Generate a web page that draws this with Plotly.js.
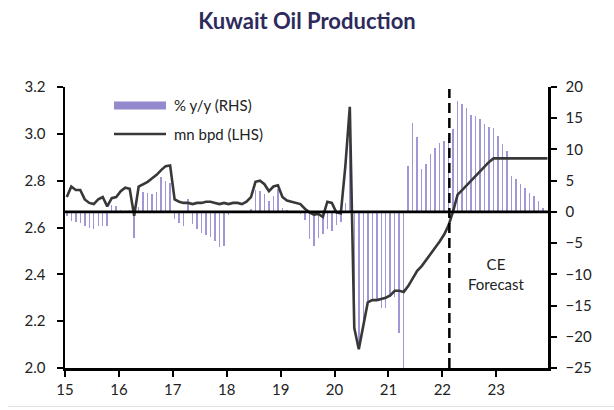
<!DOCTYPE html>
<html>
<head>
<meta charset="utf-8">
<script src="https://cdn.plot.ly/plotly-3.0.1.min.js"></script>
<style>
  html, body { margin: 0; padding: 0; background: #ffffff; }
  #chart { width: 614px; height: 410px; }
</style>
</head>
<body>
<div id="chart"></div>
<script>
// Kuwait crude output, monthly Jan 2015 - Dec 2023 (forecast from Mar 2022)
const startYear = 2015;
const yearTicks = [2015, 2016, 2017, 2018, 2019, 2020, 2021, 2022, 2023];
const yearLabels = ['15', '16', '17', '18', '19', '20', '21', '22', '23'];

// mn bpd (left axis)
const production = [
  2.73, 2.775, 2.76, 2.76, 2.72, 2.705, 2.70, 2.72, 2.73, 2.69, 2.725, 2.73,
  2.755, 2.77, 2.765, 2.65, 2.775, 2.785, 2.795, 2.81, 2.825, 2.845, 2.862, 2.865,
  2.72, 2.71, 2.705, 2.705, 2.70, 2.705, 2.705, 2.71, 2.71, 2.705, 2.70, 2.705,
  2.70, 2.705, 2.705, 2.70, 2.71, 2.73, 2.795, 2.80, 2.785, 2.755, 2.775, 2.78,
  2.73, 2.715, 2.71, 2.705, 2.70, 2.68, 2.665, 2.655, 2.658, 2.645, 2.71, 2.705,
  2.665, 2.66, 2.86, 3.115, 2.17, 2.08, 2.18, 2.28, 2.29, 2.29, 2.295, 2.30,
  2.31, 2.33, 2.33, 2.325, 2.35, 2.38, 2.415, 2.435, 2.46, 2.49, 2.515, 2.54,
  2.57, 2.61, 2.67, 2.74, 2.76, 2.78, 2.80, 2.82, 2.84, 2.86, 2.88, 2.895,
  2.895, 2.895, 2.895, 2.895, 2.895, 2.895, 2.895, 2.895, 2.895, 2.895, 2.895, 2.895
];

// % y/y (right axis)
const yoyChange = [
  -0.6, -1.4, -1.6, -1.7, -2.3, -2.5, -2.8, -2.3, -2.3, -2.3, 1.1, 0.9,
  0.3, 0.2, 0.3, -4.2, 0.8, 3.2, 3.1, 2.9, 3.2, 5.6, 4.9, 4.6,
  -1.2, -1.8, -2.3, 2.1, -2.0, -2.8, -3.3, -3.7, -4.1, -4.7, -5.6, -5.5,
  -0.5, -0.2, 0.1, -0.1, 0.2, 0.4, 3.5, 3.3, 2.9, 1.7, 2.5, 3.6,
  0.6, 0.3, 0.1, 0.0, -0.3, -1.3, -4.35, -5.45, -4.2, -3.6, -2.7, -3.05,
  -2.15, -1.6, 1.5, 16.8, -19.0, -21.0, -17.5, -14.2, -14.2, -14.3, -15.4, -15.4,
  -13.7, -13.7, -19.4, -25.0, 7.4, 14.3, 12.0, 6.8, 7.6, 9.2, 10.3, 11.1,
  11.4, 11.9, 13.3, 17.8, 17.3, 16.7, 15.5, 15.4, 14.8, 14.0, 13.6, 13.4,
  12.2, 10.8, 9.7, 5.8, 5.2, 4.4, 3.9, 3.1, 2.6, 1.7, 0.7, null
];

const forecastStart = 2022.13;

const months = production.map((_, i) => startYear + (i + 0.4) / 12);

const FONT = 'Lato, "Open Sans", sans-serif';
const INK = '#222222';

const barTrace = {
  type: 'bar',
  x: months,
  y: yoyChange,
  yaxis: 'y',
  width: 0.33 / 12,
  marker: { color: '#a097d6', line: { width: 0 } },
  name: '% y/y (RHS)',
  showlegend: false,
  hoverinfo: 'x+y'
};

const lineTrace = {
  type: 'scatter',
  mode: 'lines',
  x: months,
  y: production,
  yaxis: 'y2',
  line: { color: '#383838', width: 2.6 },
  name: 'mn bpd (LHS)',
  showlegend: false
};

// helpers for the hand-drawn key, in plot-area fractions
const plotL = 65, plotR = 548, plotT = 87, plotB = 368;
const px = v => (v - plotL) / (plotR - plotL);
const py = v => (plotB - v) / (plotB - plotT);

const layout = {
  width: 614,
  height: 410,
  margin: { l: plotL, r: 614 - plotR, t: plotT, b: 410 - plotB, pad: 0 },
  paper_bgcolor: '#ffffff',
  plot_bgcolor: '#ffffff',
  showlegend: false,
  bargap: 0,
  title: {
    text: '<b>Kuwait Oil Production</b>',
    font: { family: FONT, size: 22, color: '#2d2a5c' },
    x: 0.5, xanchor: 'center',
    y: 0.948, yanchor: 'middle', yref: 'container'
  },
  xaxis: {
    range: [2015, 2023.96],
    tickmode: 'array',
    tickvals: yearTicks,
    ticktext: yearLabels,
    ticks: 'outside', ticklen: 6, tickwidth: 2, tickcolor: '#000',
    showline: true, linecolor: '#000', linewidth: 2.5,
    showgrid: false, zeroline: false,
    tickfont: { family: FONT, size: 15, color: INK }
  },
  yaxis: {
    side: 'right',
    range: [-25, 20],
    dtick: 5,
    ticks: 'outside', ticklen: 6, tickwidth: 2, tickcolor: '#000',
    showline: true, linecolor: '#000', linewidth: 2.5,
    showgrid: false, zeroline: false,
    ticklabelstandoff: 6,
    tickfont: { family: FONT, size: 15, color: INK }
  },
  yaxis2: {
    overlaying: 'y',
    side: 'left',
    range: [2.0, 3.2],
    dtick: 0.2,
    tickformat: '.1f',
    ticks: 'outside', ticklen: 6, tickwidth: 2, tickcolor: '#000',
    showline: true, linecolor: '#000', linewidth: 2.5,
    showgrid: false, zeroline: false,
    ticklabelstandoff: 8,
    tickfont: { family: FONT, size: 15, color: INK }
  },
  shapes: [
    // zero line of the % y/y axis
    { type: 'line', xref: 'paper', yref: 'y', x0: 0, x1: 1, y0: 0, y1: 0,
      line: { color: '#000', width: 2.6 }, layer: 'above' },
    // start of forecast
    { type: 'line', xref: 'x', yref: 'paper', x0: forecastStart, x1: forecastStart,
      y0: 0, y1: py(89), line: { color: '#000', width: 2.5, dash: '10px,5px' } },
    // key: bar swatch
    { type: 'rect', xref: 'paper', yref: 'paper', x0: px(114), x1: px(166),
      y0: py(109.5), y1: py(101.5), fillcolor: '#9489cc', line: { width: 0 } },
    // key: line swatch
    { type: 'line', xref: 'paper', yref: 'paper', x0: px(114), x1: px(166),
      y0: py(134), y1: py(134), line: { color: '#383838', width: 2.6 } },
    // faint rule along the foot
    { type: 'line', xref: 'paper', yref: 'paper', x0: px(8), x1: px(614),
      y0: py(406.5), y1: py(406.5), line: { color: '#e2e2e2', width: 1 } }
  ],
  annotations: [
    { xref: 'paper', yref: 'paper', x: px(172), y: py(105), xanchor: 'left', yanchor: 'middle',
      text: '% y/y (RHS)', showarrow: false, font: { family: FONT, size: 15, color: INK } },
    { xref: 'paper', yref: 'paper', x: px(172), y: py(134), xanchor: 'left', yanchor: 'middle',
      text: 'mn bpd (LHS)', showarrow: false, font: { family: FONT, size: 15, color: INK } },
    { xref: 'x', yref: 'y2', x: 2023.0, y: 2.40, xanchor: 'center', yanchor: 'middle',
      text: 'CE<br>Forecast', showarrow: false, font: { family: FONT, size: 15, color: INK } }
  ]
};

Plotly.newPlot('chart', [barTrace, lineTrace], layout, { displayModeBar: false, staticPlot: true });
</script>
</body>
</html>
